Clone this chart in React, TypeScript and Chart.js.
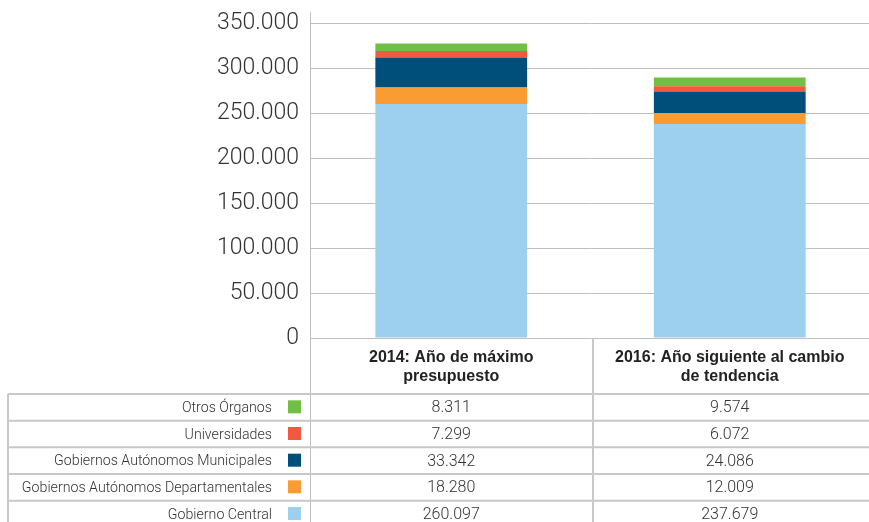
import React, { useEffect, useRef } from "react";
import { Chart, registerables } from "chart.js";

Chart.register(...registerables);

const categories: string[][] = [
  ["2014: Año de máximo", "presupuesto"],
  ["2016: Año siguiente al cambio", "de tendencia"],
];

const seriesNames = [
  "Gobierno Central",
  "Gobiernos Autónomos Departamentales",
  "Gobiernos Autónomos Municipales",
  "Universidades",
  "Otros Órganos",
];

const gobiernoCentral = [260097, 237679];
const gobiernosDepartamentales = [18280, 12009];
const gobiernosMunicipales = [33342, 24086];
const universidades = [7299, 6072];
const otrosOrganos = [8311, 9574];

const seriesColors = ["#9DD0EF", "#F89C33", "#004F7A", "#F15A40", "#71BF44"];

const yMin = 0;
const yMax = 350000;
const yStep = 50000;

const fmt = (v: number) =>
  String(Math.round(v)).replace(/\B(?=(\d{3})+(?!\d))/g, ".");

const FONT = "Roboto, 'Liberation Sans', sans-serif";
const HFONT = "'Liberation Sans', Arial, sans-serif";

export default function App() {
  const ref = useRef<HTMLCanvasElement | null>(null);

  useEffect(() => {
    if (!ref.current) return;
    const values = [
      gobiernoCentral,
      gobiernosDepartamentales,
      gobiernosMunicipales,
      universidades,
      otrosOrganos,
    ];

    const tablePlugin = {
      id: "tablePlugin",
      afterDraw(chart: any) {
        const ctx = chart.ctx as CanvasRenderingContext2D;
        const area = chart.chartArea;
        const xs = chart.scales.x;
        const W = chart.width;
        const H = chart.height;
        const lineColor = "#c8c8c8";
        const axisX = area.left - 2;
        ctx.save();
        ctx.strokeStyle = "#c0c0c0";
        ctx.lineWidth = 1;
        ctx.beginPath();
        ctx.moveTo(axisX + 0.5, 12);
        ctx.lineTo(axisX + 0.5, H);
        ctx.stroke();
        const ys = chart.scales.y;
        for (let v = yMin; v <= yMax; v += yStep) {
          const py = Math.round(ys.getPixelForValue(v)) + 0.5;
          ctx.beginPath();
          ctx.moveTo(axisX, py);
          ctx.lineTo(area.left, py);
          ctx.stroke();
        }
        const c0 = xs.getPixelForValue(0);
        const c1 = xs.getPixelForValue(1);
        const mid = Math.round((c0 + c1) / 2) + 2;
        ctx.strokeStyle = lineColor;
        ctx.lineWidth = 2;
        ctx.beginPath();
        ctx.moveTo(mid, area.bottom);
        ctx.lineTo(mid, H);
        ctx.stroke();

        const tableTop = area.bottom + 56;
        const rowH = 26.67;
        const left = 8;
        ctx.beginPath();
        ctx.moveTo(left, tableTop);
        ctx.lineTo(left, H);
        ctx.stroke();
        const rows = seriesNames.length;
        for (let r = 0; r <= rows; r++) {
          const y = tableTop + r * rowH;
          ctx.beginPath();
          ctx.moveTo(left, y);
          ctx.lineTo(W, y);
          ctx.stroke();
        }
        ctx.textBaseline = "middle";
        for (let r = 0; r < rows; r++) {
          const si = rows - 1 - r;
          const cy = tableTop + r * rowH + rowH / 2;
          ctx.font = `300 14.2px ${FONT}`;
          ctx.fillStyle = "#333";
          ctx.textAlign = "right";
          ctx.fillText(seriesNames[si], axisX - 38, cy + 1);
          ctx.fillStyle = seriesColors[si];
          ctx.fillRect(axisX - 22, cy - 7, 13, 13);
          ctx.font = `300 16px ${FONT}`;
          ctx.fillStyle = "#333";
          ctx.textAlign = "center";
          ctx.fillText(fmt(values[si][0]), c0, cy + 1);
          ctx.fillText(fmt(values[si][1]), c1, cy + 1);
        }
        ctx.restore();
      },
    };

    const chart = new Chart(ref.current, {
      type: "bar",
      data: {
        labels: categories,
        datasets: seriesNames.map((name, i) => ({
          label: name,
          data: values[i],
          backgroundColor: seriesColors[i],
          borderWidth: 0,
          categoryPercentage: 0.545,
          barPercentage: 1,
        })),
      },
      options: {
        animation: false,
        responsive: false,
        maintainAspectRatio: false,
        layout: { padding: { top: 23, right: 0, left: 0, bottom: 0 } },
        plugins: {
          legend: { display: false },
          tooltip: { enabled: false },
        },
        scales: {
          x: {
            stacked: true,
            grid: { display: false, drawTicks: false },
            border: { display: false },
            ticks: {
              font: { family: HFONT, size: 16, weight: "bold", lineHeight: 1.2 },
              color: "#222",
              padding: 10,
              maxRotation: 0,
              autoSkip: false,
            },
            afterFit: (s: any) => {
              s.height = 184;
              s.paddingLeft = 0;
              s.paddingRight = 0;
            },
          },
          y: {
            stacked: true,
            min: yMin,
            max: yMax,
            grid: { color: "#c0c0c0", lineWidth: 1, drawTicks: false },
            border: { display: false },
            ticks: {
              stepSize: yStep,
              font: { family: FONT, size: 23, weight: "300" },
              color: "#333",
              padding: 13,
              callback: (v: any) => fmt(Number(v)),
            },
            afterFit: (s: any) => {
              s.width = 312;
              s.paddingTop = 0;
              s.paddingBottom = 0;
            },
          },
        },
      },
      plugins: [tablePlugin],
    });
    return () => chart.destroy();
  }, []);

  return (
    <div style={{ position: "fixed", left: 0, top: 0, width: 869, height: 522, background: "#fff" }}>
      <canvas ref={ref} width={869} height={522} style={{ width: 869, height: 522 }} />
    </div>
  );
}
